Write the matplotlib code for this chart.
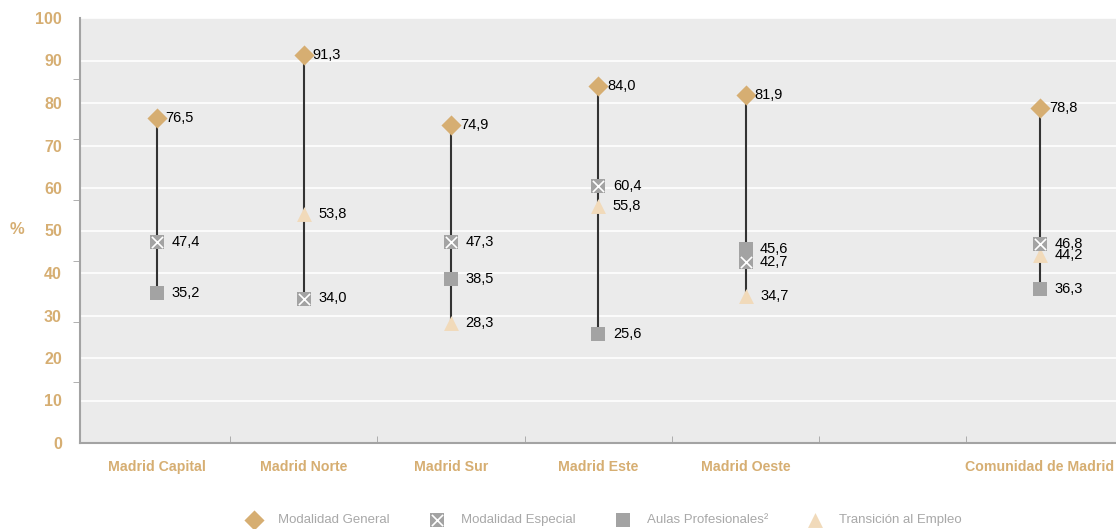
import numpy as np
from matplotlib import pyplot as plt
from matplotlib.legend_handler import HandlerTuple

# data (nan = no value)
categories = ["Madrid Capital", "Madrid Norte", "Madrid Sur", "Madrid Este",
              "Madrid Oeste", "", "Comunidad de Madrid"]
general = [76.5, 91.3, 74.9, 84.0, 81.9, np.nan, 78.8]
especial = [47.4, 34.0, 47.3, 60.4, 42.7, np.nan, 46.8]
aulas = [35.2, np.nan, 38.5, 25.6, 45.6, np.nan, 36.3]
transicion = [np.nan, 53.8, 28.3, 55.8, 34.7, np.nan, 44.2]
y_ticks = [0, 10, 20, 30, 40, 50, 60, 70, 80, 90, 100]

TAN = "#D6AE72"
GRAY = "#A3A3A3"
PEACH = "#F1DABA"
FONT = ["Liberation Sans", "DejaVu Sans"]

fig = plt.figure(figsize=(11.16, 5.29), dpi=100)
ax = fig.add_axes([80 / 1116, 1 - 443 / 529, 1 - 80 / 1116, 425 / 529])
ax.set_facecolor("#EBEBEB")

x = np.arange(len(categories))
gen = np.array(general)
esp = np.array(especial)
aul = np.array(aulas)
tra = np.array(transicion)

# vertical range lines
allv = np.vstack([gen, esp, aul, tra])
for i in x:
    col = allv[:, i]
    col = col[~np.isnan(col)]
    if len(col):
        ax.plot([i, i], [col.min(), col.max()], color="#333333", lw=1.5, zorder=2)

h_tra = ax.scatter(x, tra, marker="^", s=115, color=PEACH, zorder=3, linewidths=0)
h_esp1 = ax.scatter(x, esp, marker="s", s=95, color=GRAY, zorder=4, linewidths=0)
h_esp2 = ax.scatter(x, esp, marker="x", s=65, color="white", zorder=4.1, linewidths=1.2)
h_aul = ax.scatter(x, aul, marker="s", s=95, color=GRAY, zorder=5, linewidths=0)
h_gen = ax.scatter(x, gen, marker="D", s=105, color=TAN, zorder=6, linewidths=0)

def fmt(v):
    return f"{v:.1f}".replace(".", ",")

for i in x:
    if not np.isnan(gen[i]):
        ax.annotate(fmt(gen[i]), (i, gen[i]), xytext=(6.5, 0), textcoords="offset points",
                    va="center", ha="left", fontsize=10.5, family=FONT, zorder=7)
    for arr in (esp, aul, tra):
        if not np.isnan(arr[i]):
            ax.annotate(fmt(arr[i]), (i, arr[i]), xytext=(10.5, 0), textcoords="offset points",
                        va="center", ha="left", fontsize=10.5, family=FONT, zorder=7)

ax.set_ylim(0, 100)
ax.set_xlim(-0.52, 6.516)
ax.set_yticks(y_ticks)
ax.set_yticklabels([str(t) for t in y_ticks], color=TAN, fontweight="bold",
                   fontsize=11.5, family=FONT)
ax.set_yticks(np.linspace(0, 100, 8), minor=True)
ax.tick_params(axis="y", which="major", length=0, pad=13)
ax.tick_params(axis="y", which="minor", length=5, color=GRAY, direction="out")
ax.set_xticks(x)
ax.set_xticklabels(categories, color=TAN, fontweight="bold", fontsize=10.2, family=FONT)
ax.set_xticks(x[:-1] + 0.5, minor=True)
ax.tick_params(axis="x", which="major", length=0, pad=12)
ax.tick_params(axis="x", which="minor", length=5, color=GRAY, direction="in")
ax.grid(axis="y", color="white", lw=1.2, zorder=0)
ax.set_axisbelow(True)

for s in ("top", "right"):
    ax.spines[s].set_visible(False)
for s in ("left", "bottom"):
    ax.spines[s].set_color(GRAY)
    ax.spines[s].set_linewidth(1.5)

fig.text(10 / 1116, 1 - 230 / 529, "%", color=TAN, fontweight="bold", fontsize=12,
         family=FONT, va="center")

leg = fig.legend([h_gen, (h_esp1, h_esp2), h_aul, h_tra],
                 ["Modalidad General", "Modalidad Especial",
                  "Aulas Profesionales²", "Transición al Empleo"],
                 handler_map={tuple: HandlerTuple(ndivide=1, pad=0)},
                 loc="center", bbox_to_anchor=(604 / 1116, 1 - 520 / 529), ncol=4,
                 frameon=False, prop={"family": FONT, "size": 9.5},
                 columnspacing=3.0, handletextpad=1.2, handlelength=1.2)
for t in leg.get_texts():
    t.set_color("#A8A8A8")

fig.savefig("out.png", dpi=100)
